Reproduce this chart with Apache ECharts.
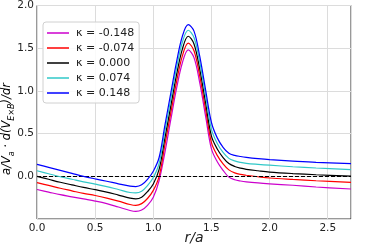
<!DOCTYPE html>
<html><head><meta charset="utf-8">
<script src="https://cdn.jsdelivr.net/npm/echarts@6/dist/echarts.min.js"></script>
<style>html,body{margin:0;padding:0;background:#fff}#c{width:374px;height:249px}</style>
</head><body><div id="c"></div>
<script>
var r = [0,0.1,0.2,0.3,0.4,0.5,0.6,0.7,0.8,0.85,0.9,0.95,1.0,1.05,1.1,1.15,1.2,1.25,1.3,1.35,1.4,1.45,1.5,1.55,1.6,1.65,1.7,1.75,1.8,1.9,2.0,2.2,2.4,2.7];
var kMinus148 = [-0.155,-0.185,-0.215,-0.24,-0.265,-0.29,-0.32,-0.36,-0.40,-0.41,-0.395,-0.34,-0.245,-0.05,0.28,0.66,1.03,1.33,1.48,1.39,1.09,0.70,0.32,0.17,0.07,-0.01,-0.04,-0.055,-0.065,-0.078,-0.088,-0.105,-0.125,-0.149];
var kMinus074 = [-0.075,-0.107,-0.14,-0.17,-0.2,-0.225,-0.255,-0.29,-0.33,-0.34,-0.32,-0.26,-0.165,0.0,0.37,0.74,1.11,1.41,1.56,1.47,1.17,0.78,0.395,0.245,0.145,0.075,0.04,0.022,0.012,-0.005,-0.02,-0.037,-0.052,-0.07];
var k000 = [0.0,-0.035,-0.07,-0.1,-0.13,-0.157,-0.185,-0.22,-0.255,-0.265,-0.245,-0.18,-0.09,0.08,0.45,0.82,1.19,1.49,1.64,1.55,1.25,0.86,0.47,0.32,0.22,0.15,0.115,0.095,0.082,0.065,0.05,0.032,0.018,0.003];
var kPlus074 = [0.065,0.03,-0.005,-0.035,-0.065,-0.092,-0.12,-0.155,-0.19,-0.195,-0.175,-0.11,-0.015,0.15,0.53,0.90,1.27,1.57,1.71,1.625,1.33,0.94,0.55,0.385,0.28,0.21,0.18,0.163,0.152,0.14,0.13,0.112,0.097,0.078];
var kPlus148 = [0.14,0.105,0.07,0.035,0.0,-0.03,-0.058,-0.088,-0.115,-0.12,-0.10,-0.035,0.06,0.22,0.60,0.97,1.34,1.64,1.775,1.70,1.40,1.01,0.63,0.45,0.34,0.27,0.245,0.232,0.222,0.207,0.195,0.178,0.163,0.148];
var names = ['κ = -0.148','κ = -0.074','κ = 0.000','κ = 0.074','κ = 0.148'];
var colors = ['#cc00cc','#ff0000','#000000','#30c8c8','#0000ff'];
var seriesData = [kMinus148,kMinus074,k000,kPlus074,kPlus148];
var xTicks = [0,0.5,1.0,1.5,2.0,2.5];
var yTicks = [0,0.5,1.0,1.5,2.0];

function pairs(vals){ return r.map(function(x,i){return [x,vals[i]];}); }
var series = seriesData.map(function(d,i){
  return {name:names[i], type:'line', data:pairs(d), symbol:'none', smooth:0.35,
    lineStyle:{color:colors[i], width:1.2}, itemStyle:{color:colors[i]}, z:3+i, animation:false};
});
series[0].markLine = {silent:true, symbol:'none', animation:false, label:{show:false},
  lineStyle:{type:[4,2], color:'#000', width:1}, data:[{yAxis:0}]};

var chart = echarts.init(document.getElementById('c'), null, {renderer:'canvas'});
chart.setOption({
  animation:false,
  backgroundColor:'#fff',
  grid:{left:37, right:23, top:5, bottom:30, show:true, borderColor:'#333', borderWidth:1, backgroundColor:'transparent'},
  xAxis:{type:'value', min:0, max:2.7, interval:0.5,
    axisLine:{show:false}, axisTick:{show:false},
    splitLine:{show:true, lineStyle:{color:'#dcdcdc', width:1}},
    axisLabel:{color:'#222', fontSize:10.5, fontFamily:'DejaVu Sans', margin:4, showMaxLabel:false,
      formatter:function(v){return xTicks.indexOf(v)>=0 ? v.toFixed(1) : '';}}},
  yAxis:{type:'value', min:-0.5, max:2.0, interval:0.5,
    axisLine:{show:false}, axisTick:{show:false},
    splitLine:{show:true, lineStyle:{color:'#dcdcdc', width:1}},
    axisLabel:{color:'#222', fontSize:10.5, fontFamily:'DejaVu Sans', margin:3,
      formatter:function(v){return yTicks.indexOf(v)>=0 ? v.toFixed(1) : '';}}},
  legend:{orient:'vertical', left:43, top:22, itemWidth:22, itemHeight:1.5, itemGap:1, icon:'rect',
    padding:[4,5,3,4], borderColor:'#d0d0d0', borderWidth:1, borderRadius:3, backgroundColor:'rgba(255,255,255,0.85)',
    textStyle:{fontSize:11, fontFamily:'DejaVu Sans', color:'#222', padding:[0,0,0,2], lineHeight:14}, data:names},
  graphic:[
    {type:'text', x:194, y:238, style:{text:'r/a', font:'italic 14px DejaVu Sans', fill:'#222', align:'center', verticalAlign:'middle'}},
    {type:'text', x:7, y:129, rotation:Math.PI/2, style:{
      text:'{n|a/V}{s|a}{n| · d(V}{s|E×B}{n|)/dr}', align:'center', verticalAlign:'middle',
      rich:{n:{fontSize:11.5, fontStyle:'italic', fontFamily:'DejaVu Sans', color:'#222', lineHeight:17},
            s:{fontSize:8, fontStyle:'italic', fontFamily:'DejaVu Sans', color:'#222', verticalAlign:'bottom'}}}}
  ],
  series:series
});
</script></body></html>
